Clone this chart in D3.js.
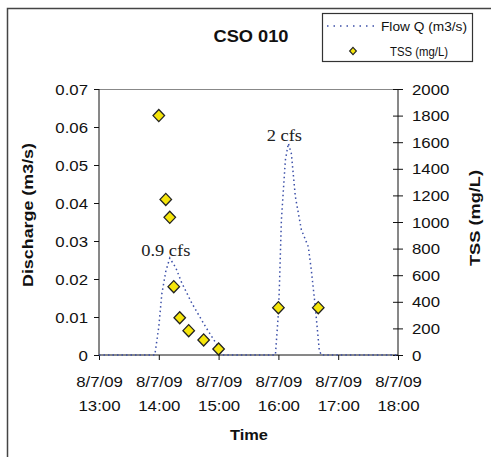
<!DOCTYPE html>
<html><head><meta charset="utf-8">
<script src="https://cdn.jsdelivr.net/npm/d3@7"></script>
<style>
html,body{margin:0;padding:0;background:#fff;}
svg{display:block;font-family:"Liberation Sans",Arial,sans-serif;}
</style></head>
<body>
<svg id="chart" width="491" height="457"></svg>
<script>
// ---- data ----
const flowTimes = ["13:00","13:56","14:00","14:03","14:07","14:11","14:17","14:23","14:33","14:47","15:00","15:03",
                   "15:57","16:00","16:01","16:03","16:07","16:10","16:13","16:17","16:23","16:30","16:33","16:37","16:41","16:43","18:00"];
const flowQ     = [0,0,0.0074,0.016,0.022,0.0255,0.023,0.019,0.0137,0.0074,0.002,0,
                   0,0.011,0.018,0.0355,0.0513,0.0557,0.053,0.0417,0.033,0.0285,0.0224,0.0127,0.0013,0,0];
const tssTimes  = ["14:00","14:07","14:11","14:15","14:21","14:30","14:45","15:00","16:00","16:40"];
const tssValues = [1800,1170,1035,514,280,183,113,45,356,356];
const xTickTimes = ["13:00","14:00","15:00","16:00","17:00","18:00"];
const xTickDate = "8/7/09";
const leftTicks = [0,0.01,0.02,0.03,0.04,0.05,0.06,0.07];
const rightTicks = [0,200,400,600,800,1000,1200,1400,1600,1800,2000];
const annotations = [{time:"14:11", q:0.0255, label:"0.9 cfs"},{time:"16:10", q:0.0557, label:"2 cfs"}];

const parseT = t => d3.timeParse("%Y-%m-%d %H:%M")("2009-08-07 " + t);

const svg = d3.select("#chart");
const X0 = 99, X1 = 398, Y0 = 355, Y1 = 89;
const x = d3.scaleTime().domain([parseT("13:00"), parseT("18:00")]).range([X0, X1]);
const yL = d3.scaleLinear().domain([0, 0.07]).range([Y0, Y1]);
const yR = d3.scaleLinear().domain([0, 2000]).range([Y0, Y1]);
const txt = "#111";

function stretch(node, f){
  const w = node.getComputedTextLength();
  node.setAttribute("textLength", (w*f).toFixed(1));
  node.setAttribute("lengthAdjust","spacingAndGlyphs");
}
function setLen(node, L){
  node.setAttribute("textLength", L);
  node.setAttribute("lengthAdjust","spacingAndGlyphs");
}

// outer frame
svg.append("rect").attr("x",7.5).attr("y",8.5).attr("width",520).attr("height",520)
  .attr("fill","none").attr("stroke","#444").attr("stroke-width",1.5);

// top plot border
svg.append("line").attr("x1",X0).attr("x2",X1).attr("y1",Y1+0.5).attr("y2",Y1+0.5)
  .attr("stroke","#888").attr("stroke-width",1);

// left axis
const gL = svg.append("g").attr("transform",`translate(${X0},0)`)
  .call(d3.axisLeft(yL).tickValues(leftTicks).tickSize(5).tickPadding(6)
    .tickFormat(d => d === 0 ? "0" : d.toFixed(2)));
// right axis
const gR = svg.append("g").attr("transform",`translate(${X1},0)`)
  .call(d3.axisRight(yR).tickValues(rightTicks).tickSize(5).tickPadding(9).tickFormat(d3.format("d")));
gR.selectAll(".tick line").attr("x1",-5);
// bottom axis
const gB = svg.append("g").attr("transform",`translate(0,${Y0})`)
  .call(d3.axisBottom(x).tickValues(xTickTimes.map(parseT)).tickSize(5).tickPadding(8).tickFormat(""));

[gL,gR,gB].forEach(g => {
  g.select(".domain").attr("stroke","#111").attr("stroke-width",1);
  g.selectAll(".tick line").attr("stroke","#111");
  g.selectAll("text").attr("font-family","Liberation Sans, Arial, sans-serif").attr("font-size",14).attr("fill",txt);
});
gL.select(".domain").attr("d",`M0,${Y0}V${Y1}`);
gR.select(".domain").attr("d",`M0,${Y0}V${Y1}`);
gB.select(".domain").attr("d",`M${X0},0H${X1}`);
gL.selectAll(".tick text").attr("dy","0.36em").each(function(){stretch(this,1.2);});
gR.selectAll(".tick text").attr("dy","0.36em").each(function(){stretch(this,1.2);});

// x tick labels, two lines
gB.selectAll(".tick").each(function(d,i){
  const t = d3.select(this).append("text").attr("text-anchor","middle")
    .attr("font-size",14).attr("fill",txt);
  t.append("tspan").attr("x",0).attr("y",32).text(xTickDate);
  t.append("tspan").attr("x",0).attr("y",56).text(xTickTimes[i]);
  t.selectAll("tspan").each(function(){stretch(this,1.2);});
});

// flow line
const line = d3.line().x((d,i)=>x(parseT(flowTimes[i]))).y((d)=>yL(d));
svg.append("path").datum(flowQ).attr("d",line).attr("fill","none")
  .attr("stroke","#3b4fa8").attr("stroke-width",1.5).attr("stroke-dasharray","1.5,3");

// annotations
svg.selectAll(".ann").data(annotations).join("text").attr("class","ann")
  .attr("x",d=>x(parseT(d.time))-4).attr("y",d=>yL(d.q)-2)
  .attr("text-anchor","middle").attr("font-family","Liberation Serif, Times New Roman, serif")
  .attr("font-size",16).attr("fill","#222").text(d=>d.label)
  .each(function(d){stretch(this,1.15);});

// TSS diamonds
const dSize = 9.5;
svg.selectAll(".tss").data(tssValues).join("path").attr("class","tss")
  .attr("transform",(d,i)=>`translate(${x(parseT(tssTimes[i]))},${yR(d)})`)
  .attr("d",`M0,${-dSize/1.65*1.05}L${dSize/1.65},0L0,${dSize/1.65*1.05}L${-dSize/1.65},0Z`)
  .attr("fill","#f5e50a").attr("stroke","#222").attr("stroke-width",1.3);

// title
svg.append("text").attr("x",251).attr("y",42).attr("text-anchor","middle")
  .attr("font-weight","bold").attr("font-size",16).attr("fill",txt).text("CSO 010")
  .each(function(){stretch(this,1.14);});

// axis titles
svg.append("text").attr("transform","translate(33,215) rotate(-90)").attr("text-anchor","middle")
  .attr("font-weight","bold").attr("font-size",15).attr("fill",txt).text("Discharge (m3/s)")
  .each(function(){setLen(this,144);});
svg.append("text").attr("transform","translate(480,218) rotate(-90)").attr("text-anchor","middle")
  .attr("font-weight","bold").attr("font-size",15).attr("fill",txt).text("TSS (mg/L)")
  .each(function(){setLen(this,96);});
svg.append("text").attr("x",249).attr("y",440).attr("text-anchor","middle")
  .attr("font-weight","bold").attr("font-size",15).attr("fill",txt).text("Time")
  .each(function(){setLen(this,38);});

// legend
const lg = svg.append("g");
lg.append("rect").attr("x",322.5).attr("y",13.5).attr("width",150).attr("height",48)
  .attr("fill","#fff").attr("stroke","#333").attr("stroke-width",1.2);
lg.append("line").attr("x1",327).attr("x2",376).attr("y1",26).attr("y2",26)
  .attr("stroke","#3b4fa8").attr("stroke-width",1.5).attr("stroke-dasharray","1.5,5");
lg.append("text").attr("x",381).attr("y",30.5).attr("font-size",13).attr("fill",txt)
  .text("Flow Q (m3/s)").each(function(){setLen(this,86);});
lg.append("path").attr("transform","translate(353,51)")
  .attr("d","M0,-3.6L3.4,0L0,3.6L-3.4,0Z").attr("fill","#f5e50a").attr("stroke","#222").attr("stroke-width",1.1);
lg.append("text").attr("x",390).attr("y",55.5).attr("font-size",13).attr("fill",txt)
  .text("TSS (mg/L)").each(function(){setLen(this,58);});
</script>
</body></html>
